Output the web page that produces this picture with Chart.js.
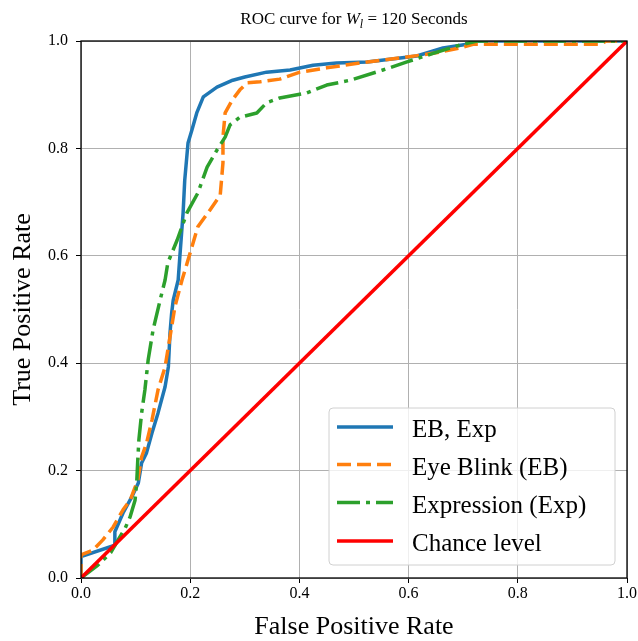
<!DOCTYPE html>
<html>
<head>
<meta charset="utf-8">
<script src="https://cdn.jsdelivr.net/npm/chart.js@4.4.1/dist/chart.umd.min.js"></script>
<style>
    html, body { margin: 0; padding: 0; background: #fff; }
    #wrap { width: 638px; height: 641px; }
</style>
</head>
<body>
<div id="wrap"><canvas id="roc-chart" width="638" height="641"></canvas></div>
<script>
// ROC curves (false positive rate, true positive rate)
const fprBoth = [0, 0, 0.062, 0.062, 0.077, 0.093, 0.105, 0.111, 0.12, 0.13, 0.141, 0.154, 0.16, 0.163, 0.166, 0.169, 0.178, 0.181, 0.187, 0.19, 0.196, 0.203, 0.212, 0.224, 0.249, 0.278, 0.30, 0.34, 0.383, 0.425, 0.468, 0.524, 0.615, 0.663, 0.707, 0.725, 1.0];
const tprBoth = [0, 0.04, 0.061, 0.086, 0.121, 0.151, 0.177, 0.214, 0.233, 0.27, 0.307, 0.356, 0.393, 0.456, 0.493, 0.518, 0.555, 0.598, 0.68, 0.741, 0.81, 0.834, 0.866, 0.896, 0.914, 0.927, 0.933, 0.942, 0.946, 0.955, 0.959, 0.961, 0.972, 0.987, 0.994, 1.0, 1.0];

const fprBlink = [0, 0, 0.022, 0.04, 0.059, 0.077, 0.09, 0.104, 0.111, 0.12, 0.13, 0.141, 0.154, 0.163, 0.172, 0.185, 0.196, 0.214, 0.236, 0.255, 0.26, 0.26, 0.264, 0.277, 0.291, 0.304, 0.328, 0.364, 0.401, 0.45, 0.511, 0.597, 0.645, 0.694, 0.718, 0.95, 0.963, 1.0];
const tprBlink = [0, 0.043, 0.052, 0.071, 0.095, 0.127, 0.145, 0.182, 0.225, 0.251, 0.294, 0.35, 0.393, 0.449, 0.505, 0.555, 0.592, 0.654, 0.685, 0.713, 0.773, 0.821, 0.866, 0.89, 0.909, 0.922, 0.924, 0.929, 0.942, 0.95, 0.959, 0.970, 0.977, 0.987, 0.994, 0.994, 1.0, 1.0];

const fprExpr = [0, 0.031, 0.055, 0.068, 0.081, 0.09, 0.099, 0.102, 0.104, 0.106, 0.111, 0.117, 0.123, 0.132, 0.145, 0.154, 0.159, 0.176, 0.194, 0.214, 0.231, 0.249, 0.264, 0.273, 0.291, 0.322, 0.34, 0.364, 0.413, 0.45, 0.493, 0.553, 0.597, 0.645, 0.689, 0.725, 1.0];
const tprExpr = [0, 0.024, 0.048, 0.071, 0.093, 0.114, 0.145, 0.177, 0.22, 0.257, 0.307, 0.35, 0.406, 0.462, 0.518, 0.555, 0.587, 0.629, 0.68, 0.717, 0.765, 0.797, 0.821, 0.844, 0.858, 0.866, 0.885, 0.894, 0.903, 0.918, 0.927, 0.946, 0.961, 0.977, 0.991, 1.0, 1.0];

const fprChance = [0, 1];
const tprChance = [0, 1];

const seriesLabels = ['EB, Exp', 'Eye Blink (EB)', 'Expression (Exp)', 'Chance level'];
const tickValues = [0, 0.2, 0.4, 0.6, 0.8, 1.0];

const SERIF = '"Liberation Serif", "DejaVu Serif", serif';

function toPoints(xs, ys) {
    return xs.map((x, i) => ({ x, y: ys[i] }));
}

// spines, legend box and the title with its subscript
const decorations = {
    id: 'decorations',
    afterDatasetsDraw(chart) {
        const { ctx, chartArea: a } = chart;
        ctx.save();
        ctx.strokeStyle = '#000';
        ctx.lineWidth = 1.3;
        ctx.strokeRect(a.left, a.top, a.right - a.left, a.bottom - a.top);
        ctx.restore();
    },
    afterDraw(chart) {
        const { ctx, chartArea: a } = chart;

        // legend
        ctx.save();
        const box = { x: 329, y: 408, w: 286, h: 157 };
        ctx.beginPath();
        ctx.roundRect(box.x, box.y, box.w, box.h, 4);
        ctx.fillStyle = 'rgba(255,255,255,0.8)';
        ctx.fill();
        ctx.strokeStyle = '#d0d0d0';
        ctx.lineWidth = 1;
        ctx.stroke();

        const rowY = [427, 464.5, 502.5, 541];
        chart.data.datasets.forEach((ds, i) => {
            const y = rowY[i];
            ctx.beginPath();
            ctx.setLineDash(ds.borderDash || []);
            ctx.lineCap = 'butt';
            ctx.strokeStyle = ds.borderColor;
            ctx.lineWidth = ds.borderWidth;
            ctx.moveTo(337, y);
            ctx.lineTo(393, y);
            ctx.stroke();
            ctx.setLineDash([]);
            ctx.fillStyle = '#000';
            ctx.font = '25px ' + SERIF;
            ctx.textBaseline = 'alphabetic';
            ctx.textAlign = 'left';
            ctx.fillText(ds.label, 412, y + 10);
        });
        ctx.restore();

        // title: "ROC curve for W_l = 120 Seconds"
        ctx.save();
        const normal = '17px ' + SERIF;
        const italic = 'italic 17px ' + SERIF;
        const small = 'italic 12px ' + SERIF;
        const parts = [
            { t: 'ROC curve for ', f: normal, dy: 0 },
            { t: 'W', f: italic, dy: 0 },
            { t: 'l', f: small, dy: 4 },
            { t: ' = 120 Seconds', f: normal, dy: 0 }
        ];
        let total = 0;
        parts.forEach((p) => {
            ctx.font = p.f;
            p.w = ctx.measureText(p.t).width;
            total += p.w;
        });
        let x = (a.left + a.right) / 2 - total / 2;
        ctx.fillStyle = '#000';
        ctx.textBaseline = 'alphabetic';
        ctx.textAlign = 'left';
        parts.forEach((p) => {
            ctx.font = p.f;
            ctx.fillText(p.t, x, 24 + p.dy);
            x += p.w;
        });
        ctx.restore();
    }
};

function axisOptions(titleText, isX) {
    return {
        type: 'linear',
        min: 0,
        max: 1,
        afterBuildTicks: (scale) => {
            scale.ticks = tickValues.map((v) => ({ value: v }));
        },
        afterFit: (scale) => {
            if (isX) {
                scale.height = 63;
                scale.paddingLeft = 0;
                scale.paddingRight = 0;
            } else {
                scale.width = 81;
                scale.paddingTop = 0;
                scale.paddingBottom = 0;
            }
        },
        ticks: {
            color: '#000',
            padding: isX ? 1 : 8,
            font: { family: SERIF, size: 16 },
            callback: (v) => Number(v).toFixed(1)
        },
        grid: {
            color: '#b0b0b0',
            lineWidth: 1,
            tickColor: '#000',
            tickLength: 5,
            tickWidth: 1
        },
        border: { display: false },
        title: {
            display: true,
            text: titleText,
            color: '#000',
            font: { family: SERIF, size: 26, lineHeight: 1 },
            padding: isX ? { top: 0, bottom: 1 } : { top: 10, bottom: 0 }
        }
    };
}

new Chart(document.getElementById('roc-chart'), {
    type: 'scatter',
    data: {
        datasets: [
            {
                label: seriesLabels[0],
                data: toPoints(fprBoth, tprBoth),
                borderColor: '#1f77b4',
                borderWidth: 3.5,
                order: 4
            },
            {
                label: seriesLabels[1],
                data: toPoints(fprBlink, tprBlink),
                borderColor: '#ff7f0e',
                borderWidth: 3.5,
                borderDash: [14, 6],
                order: 3
            },
            {
                label: seriesLabels[2],
                data: toPoints(fprExpr, tprExpr),
                borderColor: '#2ca02c',
                borderWidth: 3.5,
                borderDash: [23, 6, 4, 6],
                order: 2
            },
            {
                label: seriesLabels[3],
                data: toPoints(fprChance, tprChance),
                borderColor: '#ff0000',
                borderWidth: 3.5,
                order: 1
            }
        ].map((ds) => ({
            ...ds,
            showLine: true,
            pointRadius: 0,
            pointHoverRadius: 0,
            tension: 0,
            fill: false,
            borderCapStyle: 'butt',
            borderJoinStyle: 'round'
        }))
    },
    options: {
        responsive: false,
        animation: false,
        devicePixelRatio: 1,
        layout: { padding: { left: 0, top: 41, right: 11, bottom: 0 } },
        plugins: {
            legend: { display: false },
            title: { display: false },
            tooltip: { enabled: false }
        },
        scales: {
            x: axisOptions('False Positive Rate', true),
            y: axisOptions('True Positive Rate', false)
        }
    },
    plugins: [decorations]
});
</script>
</body>
</html>
